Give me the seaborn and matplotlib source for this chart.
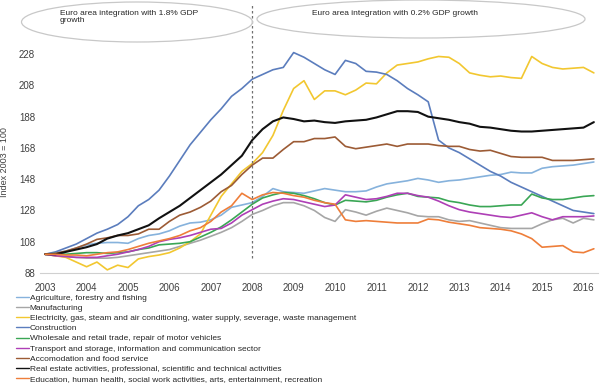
import numpy as np
import pandas as pd
import seaborn as sns
import matplotlib.pyplot as plt
from matplotlib.patches import Ellipse

# quarterly index, 2003Q1 .. 2016Q2
years = list(range(2003, 2017))
n_q = 54

agriculture = [100, 101, 102, 104, 106, 107, 107.5, 107.5, 107, 110, 112, 113, 115, 118, 120, 120.5, 122, 125,
               130, 131.5, 133, 137, 142, 140, 139.5, 139, 140.5, 142, 141, 140, 140, 140.5, 143, 145, 146, 147,
               148.5, 147.5, 146, 147, 147.5, 148.5, 149.5, 150.5, 151, 152.5, 152, 152, 155, 156, 156.5, 157, 158, 159]
manufacturing = [100, 99, 98.5, 98, 97.5, 97.5, 97.5, 98, 99, 100, 101, 102, 103, 105, 107, 109, 111.5, 114,
                 117, 121, 125.5, 128, 131, 133, 133, 131, 128, 123.5, 121, 128.5, 127, 125, 127.5, 129.5, 128, 126.5,
                 124.5, 124, 124, 122, 121, 121.5, 120, 118.5, 117, 116.5, 116.5, 116.5, 119.5, 122, 123, 120, 123, 122]
electricity = [100, 99, 98, 95, 92, 95, 90, 93, 91.5, 97, 98.5, 99.5, 101, 104, 108, 113, 125, 137,
               145, 153, 158, 165, 176, 192, 206, 211, 199, 204.5, 204.5, 202, 205, 209.5, 209, 216, 221, 222,
               223, 225, 226.5, 226, 222, 216, 214.5, 213.5, 214, 213, 212.5, 226.5, 222, 219.5, 218.5, 219, 219.5, 216]
construction = [100, 101.5, 104, 106.5, 110, 113.5, 116, 119, 124, 131, 135, 141, 150, 160, 170, 178, 186, 193,
                201, 206, 212, 215, 218, 219.5, 229, 226, 222, 218, 215, 224, 222, 217, 216.5, 215, 211, 206,
                202, 197.5, 173, 168, 165, 161, 157, 153, 150, 146, 143, 140, 137, 134, 131, 128, 127, 126]
wholesale = [100, 100.5, 100, 100.5, 101, 101, 100.5, 101, 101.5, 103, 104, 106, 106.5, 107, 108, 111, 114, 117.5,
             122, 127, 132, 136, 138, 139.5, 139, 137.5, 135.5, 133, 131.5, 134.5, 134, 133.5, 134.5, 136.5, 138, 139,
             137, 136.5, 136, 134, 133, 131.5, 130.5, 130.5, 131, 131.5, 131.5, 138.5, 136, 135, 135, 136, 137, 137.5]
transport = [100, 99, 98.5, 98, 98, 98, 99, 100, 101.5, 103, 105, 108, 109.5, 110.5, 112, 114, 116, 116.5,
             120, 125, 128.5, 132, 134, 135.5, 135, 133.5, 132, 130.5, 131.5, 138, 136.5, 135, 135.5, 137, 139, 139,
             137.5, 136.5, 134, 131, 128.5, 127, 126, 125, 124, 123.5, 125, 126.5, 124, 122, 124, 124, 124, 124.5]
accomodation = [100, 100.5, 102, 104, 106.5, 109.5, 110.5, 112, 112, 113, 116, 116, 121, 125, 127, 130, 134, 140,
                144, 151, 157, 161.5, 161.5, 167, 172, 172, 174, 174, 175, 169, 167.5, 168.5, 169.5, 170.5, 169, 170.5,
                170.5, 170.5, 169.5, 169, 169, 167, 166, 166.5, 164.5, 162.5, 162, 162, 162, 160, 160, 160, 160.5, 161]
real_estate = [100, 100, 101.5, 103, 104.5, 106.5, 110, 112, 113.5, 116, 118.5, 123, 127, 131, 136, 141, 146, 151,
               157, 163, 173, 180, 185, 187.5, 186.5, 185, 185.5, 184.5, 184, 185, 185.5, 186, 187.5, 189.5, 191.5, 191.5,
               191, 188, 187, 186, 184.5, 183.5, 181.5, 181, 180, 179, 178.5, 178.5, 179, 179.5, 180, 180.5, 181, 184.5]
education = [100, 100, 99.5, 99.5, 99, 100, 101, 101.5, 103, 105, 107, 108.5, 110, 112, 115, 117, 121, 127,
             131, 139, 135, 138, 139.5, 139, 137.5, 136.5, 134.5, 133, 132, 122, 121, 121.5, 121, 120.5, 120, 120,
             120, 122.5, 122, 120.5, 119.5, 118.5, 117, 116.5, 116, 115, 113, 110, 104.5, 105, 105.5, 101.5, 101, 103.5]

sectors = [
    "Agriculture, forestry and fishing",
    "Manufacturing",
    "Electricity, gas, steam and air conditioning, water supply, severage, waste management",
    "Construction",
    "Wholesale and retail trade, repair of motor vehicles",
    "Transport and storage, information and communication sector",
    "Accomodation and food service",
    "Real estate activities, professional, scientific and technical activities",
    "Education, human health, social work activities, arts, entertainment, recreation",
]
series = [agriculture, manufacturing, electricity, construction, wholesale,
          transport, accomodation, real_estate, education]
colors = ["#86B2DC", "#A6A6A6", "#F2C730", "#5B7DBD", "#3AA655",
          "#AE3FB6", "#9C5B35", "#111111", "#EE7E3A"]

rows = []
for name, vals in zip(sectors, series):
    for i, v in enumerate(vals):
        rows.append({"q": i, "index": v, "sector": name})
df = pd.DataFrame(rows)

sns.set_style("white")
plt.rcParams['font.family'] = ['Liberation Sans', 'DejaVu Sans']

fig = plt.figure(figsize=(6, 3.87), dpi=100)
ax = fig.add_axes([40 / 600, 1 - 273 / 387, 558 / 600, (273 - 51) / 387])

sns.lineplot(data=df, x="q", y="index", hue="sector", hue_order=sectors,
             palette=dict(zip(sectors, colors)), linewidth=1.2, ax=ax)
for ln in ax.get_lines():
    if ln.get_color() == "#111111":
        ln.set_linewidth(1.5)

ax.set_xlim(-0.5, 53.4)
ax.set_ylim(88, 230)
ax.set_yticks(range(88, 229, 20))
ax.set_xticks([4 * k for k in range(len(years))])
ax.set_xticklabels([str(y) for y in years])
ax.tick_params(axis="both", labelsize=7, colors="#404040", length=0)
ax.tick_params(axis="x", length=3, color="#D0D0D0", pad=4)
ax.set_xlabel("")
ax.set_ylabel("Index 2003 = 100", fontsize=6.5, color="#404040", labelpad=7)
for s in ["top", "right", "left"]:
    ax.spines[s].set_visible(False)
ax.spines["bottom"].set_color("#D0D0D0")
ax.spines["bottom"].set_linewidth(0.8)

# period split
ax.axvline(20, ymin=0.068, ymax=1.215, color="#707070", ls=(0, (2, 2)), lw=0.9, clip_on=False)

# annotations
for cx, cy, w, h in [(137, 22, 231, 40), (421, 19, 328, 38)]:
    fig.patches.append(Ellipse((cx / 600, 1 - cy / 387), w / 600, h / 387,
                               transform=fig.transFigure, fill=False,
                               edgecolor="#C8C8C8", lw=0.9))
fig.text(60 / 600, 1 - 10 / 387, "Euro area integration with 1.8% GDP\ngrowth",
         fontsize=6, color="#262626", va="top", ha="left", linespacing=1.1)
fig.text(312 / 600, 1 - 10 / 387, "Euro area integration with 0.2% GDP growth",
         fontsize=6, color="#262626", va="top", ha="left")

handles, labels = ax.get_legend_handles_labels()
ax.legend(handles, labels, loc="upper left", bbox_to_anchor=(13 / 600, 1 - 291 / 387),
          bbox_transform=fig.transFigure, frameon=False, fontsize=6,
          handlelength=1.5, handletextpad=0.1, labelspacing=0.27, borderaxespad=0,
          labelcolor="#262626")
for h in ax.get_legend().legend_handles:
    h.set_linewidth(1.0)

fig.savefig("out.png", dpi=100)
